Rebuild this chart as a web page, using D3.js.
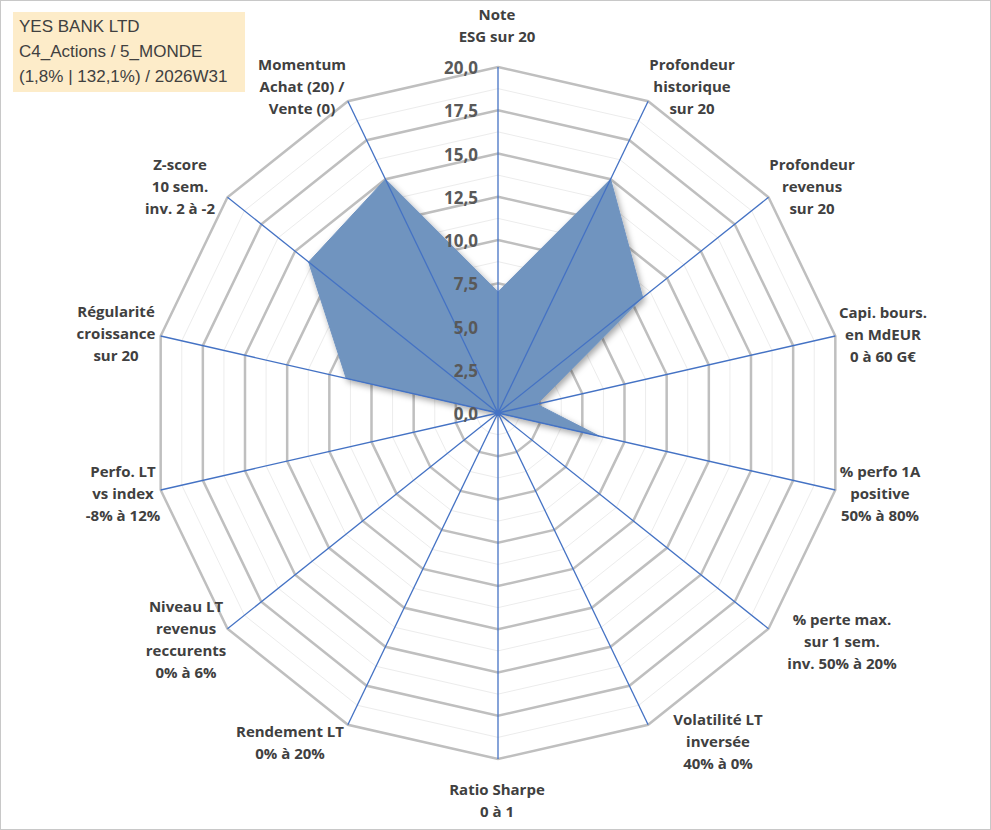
<!DOCTYPE html>
<html>
<head>
<meta charset="utf-8">
<script src="https://cdn.jsdelivr.net/npm/d3@7"></script>
<style>
  body { margin: 0; background: #fff; }
  svg { font-family: "Open Sans", "Liberation Sans", sans-serif; }
</style>
</head>
<body>
<svg id="chart"></svg>
<script>
const width = 991;
const height = 830;

const axisLabels = [
  ["Note", "ESG sur 20"],
  ["Profondeur", "historique", "sur 20"],
  ["Profondeur", "revenus", "sur 20"],
  ["Capi. bours.", "en MdEUR", "0 à 60 G€"],
  ["% perfo 1A", "positive", "50% à 80%"],
  ["% perte max.", "sur 1 sem.", "inv. 50% à 20%"],
  ["Volatilité LT", "inversée", "40% à 0%"],
  ["Ratio Sharpe", "0 à 1"],
  ["Rendement LT", "0% à 20%"],
  ["Niveau LT", "revenus", "reccurents", "0% à 6%"],
  ["Perfo. LT", "vs index", "-8% à 12%"],
  ["Régularité", "croissance", "sur 20"],
  ["Z-score", "10 sem.", "inv. 2 à -2"],
  ["Momentum", "Achat (20) /", "Vente (0)"],
];
const values = [7.0, 15.0, 10.7, 2.3, 6.0, 0, 0, 0, 0, 0, 0, 9.0, 14.0, 15.0];
const ticks = [0, 2.5, 5, 7.5, 10, 12.5, 15, 17.5, 20];
const titleLines = ["YES BANK LTD", "C4_Actions / 5_MONDE", "(1,8% | 132,1%) / 2026W31"];

// label anchor positions (centre x, first baseline y)
const labelPos = [
  [497, 20], [692, 70], [812, 170], [883, 318], [880, 477], [842, 625], [718, 725],
  [497, 795], [290, 737], [186, 612], [123, 477], [116, 317], [180, 170], [302, 70],
];

const cx = 498, cy = 413, radius = 346;
const n = axisLabels.length;

const svg = d3.select("#chart").attr("width", width).attr("height", height);
svg.append("rect").attr("x", 0.5).attr("y", 0.5).attr("width", width - 1).attr("height", height - 1)
  .attr("fill", "#fff").attr("stroke", "#c8c8c8");

const r = d3.scaleLinear().domain([0, 20]).range([0, radius]);
const angle = (i) => (i * 2 * Math.PI) / n;
const pt = (i, v) => [cx + r(v) * Math.sin(angle(i)), cy - r(v) * Math.cos(angle(i))];

const g = svg.append("g");

// GRID RINGS (minor + major)
d3.range(1.25, 20, 2.5).forEach((v) => {
  g.append("polygon")
    .attr("points", d3.range(n).map((i) => pt(i, v).join(",")).join(" "))
    .attr("fill", "none").attr("stroke", "#ececec").attr("stroke-width", 1);
});
ticks.slice(1).forEach((v) => {
  g.append("polygon")
    .attr("points", d3.range(n).map((i) => pt(i, v).join(",")).join(" "))
    .attr("fill", "none").attr("stroke", "#bfbfbf").attr("stroke-width", 2.5);
});

// DATA AREA
const line = d3.lineRadial().angle((d, i) => angle(i)).radius((d) => r(d)).curve(d3.curveLinearClosed);
svg.append("defs").append("filter").attr("id", "sh")
  .append("feDropShadow").attr("dx", 2).attr("dy", 3).attr("stdDeviation", 3).attr("flood-opacity", 0.35);
g.append("path")
  .attr("transform", `translate(${cx},${cy})`)
  .attr("d", line(values))
  .attr("fill", "#7094bf").attr("stroke", "#6f93c0").attr("stroke-width", 1)
  .attr("filter", "url(#sh)");

// AXIS LINES
d3.range(n).forEach((i) => {
  const [x, y] = pt(i, 20);
  g.append("line").attr("x1", cx).attr("y1", cy).attr("x2", x).attr("y2", y)
    .attr("stroke", "#4472c4").attr("stroke-width", 1.3);
});
g.append("circle").attr("cx", cx).attr("cy", cy).attr("r", 3).attr("fill", "#4472c4");

// TICK LABELS
ticks.forEach((v) => {
  g.append("text").attr("x", cx - 20).attr("y", cy - r(v) + 7)
    .attr("text-anchor", "end").attr("font-size", 17).attr("font-weight", "bold")
    .attr("fill", "#595959").text(d3.format(".1f")(v).replace(".", ","));
});

// AXIS LABELS
axisLabels.forEach((lines, i) => {
  const [tx, ty] = labelPos[i];
  const t = svg.append("text").attr("text-anchor", "middle").attr("font-size", 15)
    .attr("font-weight", "bold").attr("fill", "#404040");
  lines.forEach((l, k) => t.append("tspan").attr("x", tx).attr("y", ty + k * 22).text(l));
});

// TITLE BOX
svg.append("rect").attr("x", 13).attr("y", 12).attr("width", 232).attr("height", 80).attr("fill", "#fde9c0").attr("opacity", 0.85);
titleLines.forEach((l, k) => {
  svg.append("text").attr("x", 19).attr("y", 32 + k * 25).attr("font-size", 17)
    .attr("font-family", "'Liberation Sans', sans-serif").attr("fill", "#404040").text(l);
});
</script>
</body>
</html>
